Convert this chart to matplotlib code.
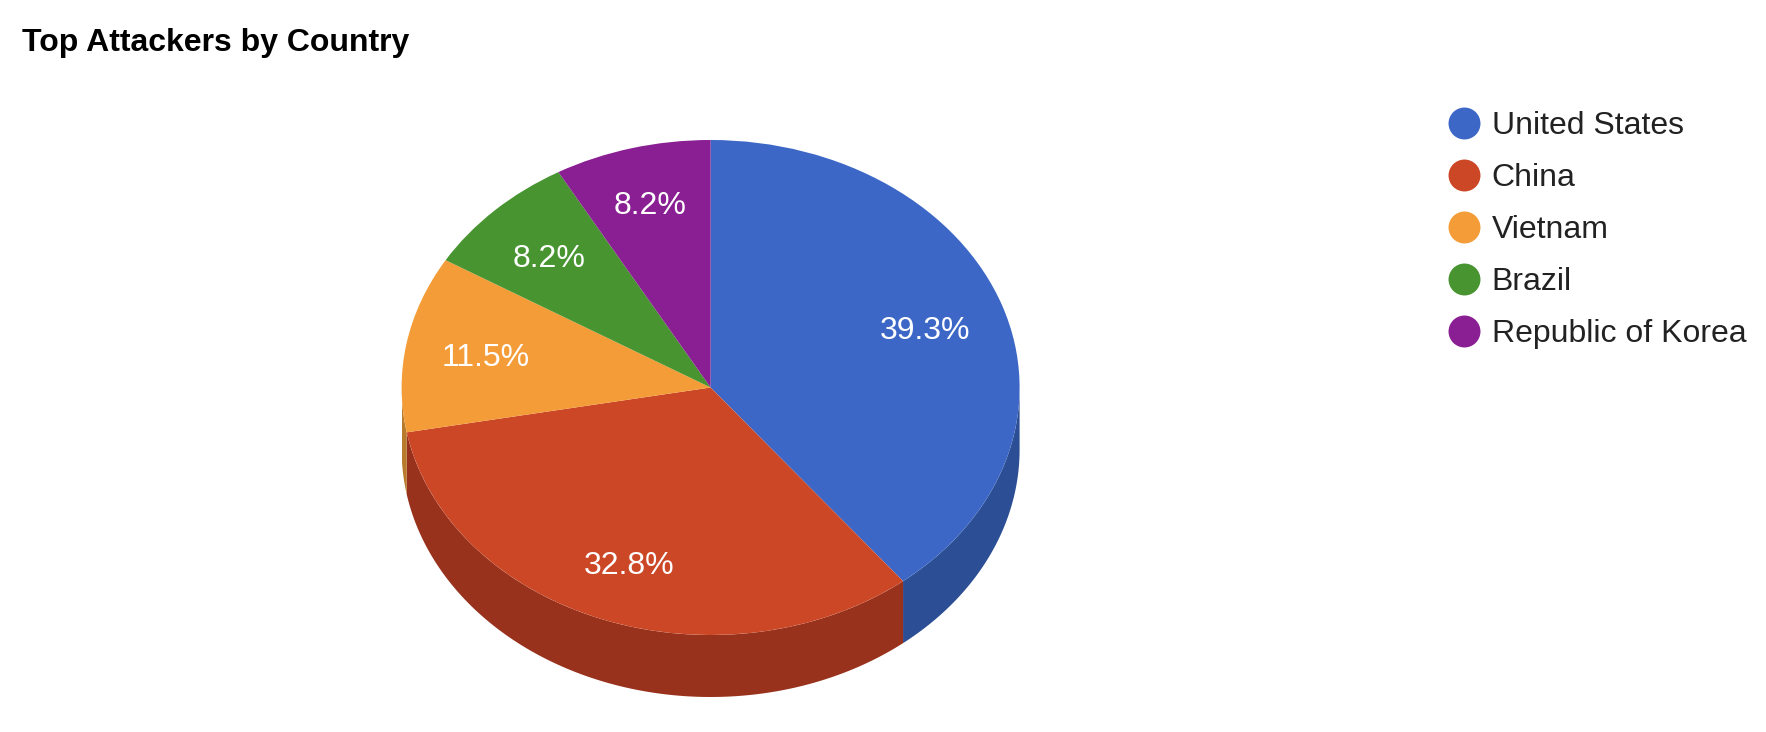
import numpy as np
import matplotlib
matplotlib.use('Agg')
import matplotlib.pyplot as plt
from matplotlib.lines import Line2D
from matplotlib.patches import Polygon

plt.rcParams['font.family'] = ['Liberation Sans', 'DejaVu Sans']

countries = ['United States', 'China', 'Vietnam', 'Brazil', 'Republic of Korea']
shares = [39.3, 32.8, 11.5, 8.2, 8.2]
top_colors = ['#3c67c6', '#cc4726', '#f49d38', '#479431', '#8a1e93']
side_colors = ['#2c4e94', '#99321c', '#b87a2b', '#35701f', '#68176e']
label_dist = [0.735, 0.755, 0.74, 0.747, 0.772]

W, H = 1766, 732
fig = plt.figure(figsize=(W / 100, H / 100), dpi=100, facecolor='white')

# pie box in pixels
cx, cy, rx, ry, depth = 710.6, 387.5, 309, 247.5, 62
ax = fig.add_axes([(cx - rx) / W, 1 - (cy + ry + depth) / H, 2 * rx / W, (2 * ry + depth) / H])

wedges, _, pct_texts = ax.pie(shares, colors=top_colors, startangle=90, counterclock=False,
                              radius=1, autopct='%.1f%%', pctdistance=0.72,
                              wedgeprops={'linewidth': 0, 'zorder': 3},
                              textprops={'color': 'white', 'fontsize': 23, 'zorder': 4})
ax.set_aspect('auto')
ax.set_xlim(-1, 1)
drop = depth / ry
ax.set_ylim(-1 - drop, 1)

# side wall, only the front half of the rim shows
edges = np.cumsum([0] + shares) / sum(shares) * 360
for i in range(len(shares)):
    a0, a1 = max(edges[i], 90), min(edges[i + 1], 270)
    if a1 <= a0:
        continue
    ang = np.radians(np.linspace(a0, a1, 120))
    x, y = np.sin(ang), np.cos(ang)
    pts = np.vstack([np.column_stack([x, y]), np.column_stack([x, y - drop])[::-1]])
    ax.add_patch(Polygon(pts, closed=True, facecolor=side_colors[i], linewidth=0, zorder=2))

# per-slice label distance
for i, txt in enumerate(pct_texts):
    mid = np.radians((edges[i] + edges[i + 1]) / 2)
    txt.set_position((label_dist[i] * np.sin(mid), label_dist[i] * np.cos(mid)))
    txt.set_verticalalignment('center_baseline')

fig.text(22 / W, 1 - 43.5 / H, 'Top Attackers by Country', fontsize=23, fontweight='bold',
         color='black', va='center', ha='left')

handles = [Line2D([], [], linestyle='none', marker='o', markersize=23, color=c, markeredgewidth=0)
           for c in top_colors]
fig.legend(handles, countries, loc='upper left', bbox_to_anchor=(1448 / W, 1 - 111.5 / H),
           frameon=False, fontsize=23, labelcolor='#222222', borderpad=0, borderaxespad=0,
           handlelength=1.0, handletextpad=0.37, labelspacing=0.6875)

fig.savefig('out.png', dpi=100)
